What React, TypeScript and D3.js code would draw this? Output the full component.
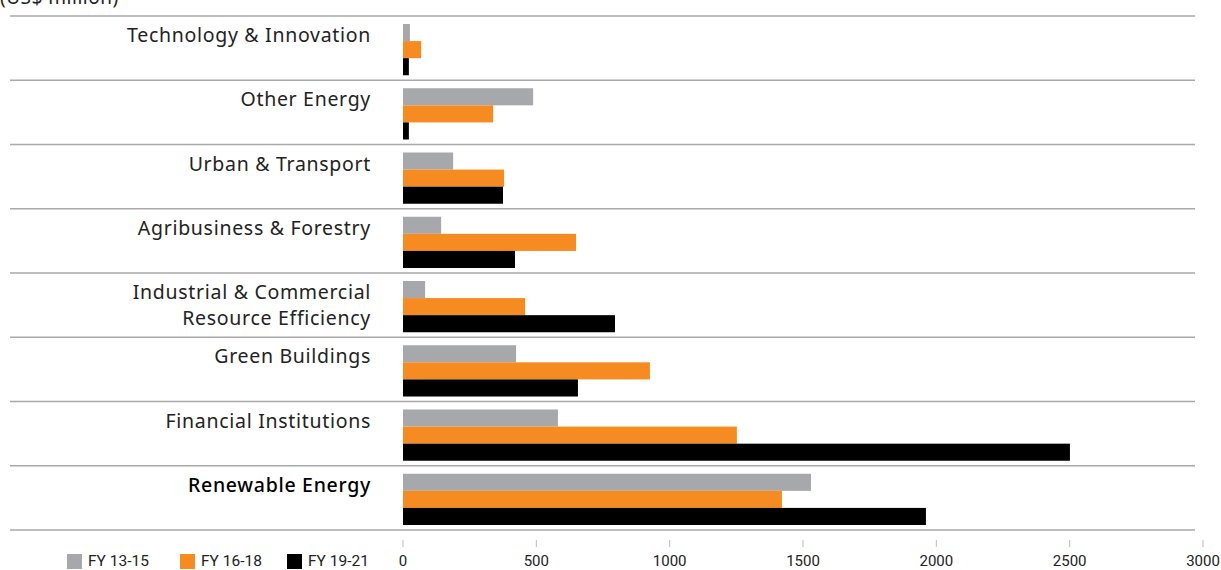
import React, { useEffect, useRef } from 'react';
import * as d3 from 'd3';

const categories = [
  'Technology & Innovation',
  'Other Energy',
  'Urban & Transport',
  'Agribusiness & Forestry',
  'Industrial & Commercial|Resource Efficiency',
  'Green Buildings',
  'Financial Institutions',
  'Renewable Energy',
];
const seriesNames = ['FY 13-15', 'FY 16-18', 'FY 19-21'];
const fy1315 = [26, 488, 188, 143, 83, 424, 581, 1530];
const fy1618 = [68, 338, 379, 649, 458, 926, 1252, 1421];
const fy1921 = [22, 22, 375, 420, 795, 656, 2501, 1961];
const xTicks = [0, 500, 1000, 1500, 2000, 2500, 3000];
const colors = ['#a7a8ab', '#f68b22', '#000000'];

export default function App() {
  const svgRef = useRef<SVGSVGElement>(null);

  useEffect(() => {
    if (!svgRef.current) return;
    const svg = d3.select(svgRef.current);
    svg.selectAll('*').remove();

    const series = [fy1315, fy1618, fy1921];

    const x = d3.scaleLinear().domain([0, 3000]).range([403, 1203]);
    const y = d3.scaleBand().domain(categories).range([16, 530]).padding(0);
    const inner = d3.scaleBand<number>()
      .domain([0, 1, 2])
      .range([8, y.bandwidth() - 5]);

    // unit caption, mostly above the top edge as in the source
    svg.append('text')
      .attr('x', 0)
      .attr('y', 4)
      .style('font-family', '"Noto Sans", sans-serif')
      .style('font-size', '19px')
      .style('letter-spacing', '0.5px')
      .style('fill', '#222')
      .text('(US$ million)');

    // separators
    const lines = categories.map(c => y(c) || 0).concat([530]);
    svg.append('g')
      .selectAll('line')
      .data(lines)
      .enter()
      .append('line')
      .attr('x1', 10)
      .attr('x2', 1195)
      .attr('y1', d => d)
      .attr('y2', d => d)
      .attr('stroke', '#a9a9a9')
      .attr('stroke-width', 1.5);

    // bars
    categories.forEach((c, i) => {
      const g = svg.append('g').attr('transform', `translate(0,${y(c)})`);
      series.forEach((s, k) => {
        g.append('rect')
          .attr('x', x(0))
          .attr('y', inner(k) || 0)
          .attr('width', x(s[i]) - x(0))
          .attr('height', inner.bandwidth())
          .attr('fill', colors[k]);
      });

      // category label
      const parts = c.split('|');
      const bold = c === 'Renewable Energy';
      const t = g.append('text')
        .attr('text-anchor', 'end')
        .style('font-family', '"Noto Sans", sans-serif')
        .style('font-size', '19.5px')
        .style('letter-spacing', '0.7px')
        .style('fill', bold ? '#000' : '#222')
        .style('font-weight', bold ? 500 : 400);
      parts.forEach((p, j) => {
        t.append('tspan')
          .attr('x', 371)
          .attr('y', 26 + j * 26)
          .text(p);
      });
    });

    // x axis
    const axis = svg.append('g');
    axis.selectAll('line')
      .data(xTicks)
      .enter()
      .append('line')
      .attr('x1', d => x(d))
      .attr('x2', d => x(d))
      .attr('y1', 540)
      .attr('y2', 547)
      .attr('stroke', '#bbb')
      .attr('stroke-width', 1);
    axis.selectAll('text')
      .data(xTicks)
      .enter()
      .append('text')
      .attr('x', d => x(d))
      .attr('y', 566)
      .attr('text-anchor', 'middle')
      .style('font-family', 'Roboto, sans-serif')
      .style('font-size', '15px')
      .style('fill', '#222')
      .text(d => String(d));

    // legend
    const legendX = [67, 180, 287];
    const legend = svg.append('g');
    seriesNames.forEach((n, k) => {
      legend.append('rect')
        .attr('x', legendX[k])
        .attr('y', 554)
        .attr('width', 15)
        .attr('height', 15)
        .attr('fill', colors[k]);
      legend.append('text')
        .attr('x', legendX[k] + 21)
        .attr('y', 566)
        .style('font-family', 'Roboto, sans-serif')
        .style('font-size', '15.5px')
        .style('fill', '#222')
        .text(n);
    });
  }, []);

  return (
    <svg
      ref={svgRef}
      width={1221}
      height={570}
      style={{ position: 'absolute', left: 0, top: 0, background: '#fff' }}
    />
  );
}
